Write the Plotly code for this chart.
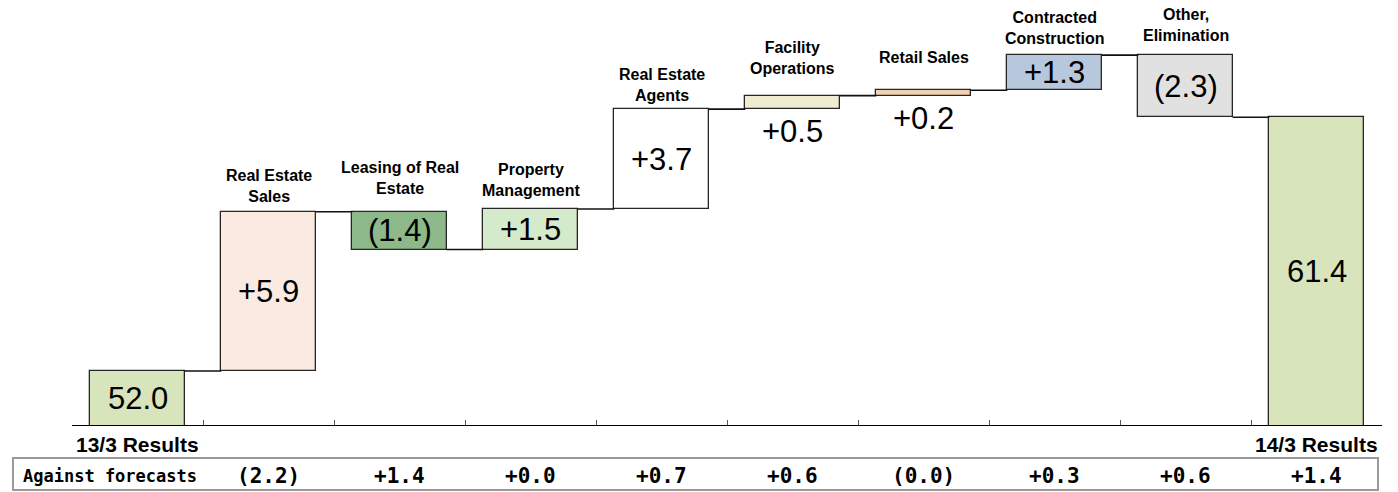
import math
import plotly.graph_objects as go

# Operating income bridge: 13/3 results -> 14/3 results (billions of yen)
categories = ["13/3 Results", "Real Estate<br>Sales", "Leasing of Real<br>Estate",
              "Property<br>Management", "Real Estate<br>Agents", "Facility<br>Operations",
              "Retail Sales", "Contracted<br>Construction", "Other,<br>Elimination",
              "14/3 Results"]
start_value = 52.0
changes = [5.9, -1.4, 1.5, 3.7, 0.5, 0.2, 1.3, -2.3]
end_value = 61.4
against_forecasts = [-2.2, 1.4, 0.0, 0.7, 0.6, -0.0, 0.3, 0.6, 1.4]

fill_colors = ["#D7E4BC", "#FBEAE1", "#8DB98A", "#D5E9CB", "#FFFFFF",
               "#F0EBD3", "#F3D2B3", "#B8C8DC", "#E1E1E1", "#D7E4BC"]
value_place = ["in", "in", "in", "in", "in", "below", "below", "in", "in", "in"]
label_gap = [0, 5, 13, 8, 3, 17, 22, 6, 9, 0]

Y_MIN, Y_MAX = 50.0, 65.0
W, H = 1398, 492
M_L, M_R, M_T, M_B = 72, 16, 20, 67
PLOT_W = W - M_L - M_R
PLOT_H = H - M_T - M_B


def fmt_change(v):
    if math.copysign(1.0, v) < 0:
        return "({:.1f})".format(abs(v))
    return "+{:.1f}".format(v)


def px_to_paper_y(py):
    return (H - M_B - py) / PLOT_H


def px_to_paper_x(px):
    return (px - M_L) / PLOT_W


# bar bases / heights from running total
levels = [start_value]
for c in changes:
    levels.append(levels[-1] + c)

bases = [0.0]
heights = [start_value]
for i, c in enumerate(changes):
    lo = min(levels[i], levels[i + 1])
    bases.append(lo)
    heights.append(abs(c))
bases.append(0.0)
heights.append(end_value)

xs = list(range(len(categories)))
BAR_W = 0.72

fig = go.Figure()
fig.add_trace(go.Bar(
    x=xs, y=heights, base=bases, width=BAR_W,
    marker=dict(color=fill_colors, line=dict(color="#262626", width=1.3)),
    hoverinfo="skip", showlegend=False,
))

# connector lines between neighbouring bars
cx, cy = [], []
for i in range(len(categories) - 1):
    lvl = levels[i] if i < len(levels) else end_value
    cx += [i + BAR_W / 2, i + 1 - BAR_W / 2, None]
    cy += [lvl, lvl, None]
fig.add_trace(go.Scatter(x=cx, y=cy, mode="lines",
                         line=dict(color="#111111", width=1.6),
                         hoverinfo="skip", showlegend=False))

annotations = []
value_font = dict(family="Liberation Sans, Arial", size=31, color="#000")
value_texts = ["{:.1f}".format(start_value)] + [fmt_change(c) for c in changes] + ["{:.1f}".format(end_value)]
tops = [b + h for b, h in zip(bases, heights)]
for i, txt in enumerate(value_texts):
    bottom = max(bases[i], Y_MIN)
    if value_place[i] == "in":
        annotations.append(dict(x=i, y=(bottom + tops[i]) / 2, xref="x", yref="y",
                                yanchor="middle", text=txt, showarrow=False, font=value_font))
    else:
        annotations.append(dict(x=i, y=bottom, xref="x", yref="y", yanchor="top", yshift=-3,
                                text=txt, showarrow=False, font=value_font))

# category names: above the change bars, under the axis for the two results
label_font = dict(family="Liberation Sans, Arial", size=16, color="#000")
for i, name in enumerate(categories):
    if i == 0 or i == len(categories) - 1:
        annotations.append(dict(x=i, y=0, xref="x", yref="paper", yanchor="top", yshift=-6,
                                text="<b>%s</b>" % name, showarrow=False,
                                font=dict(family="Liberation Sans, Arial", size=21, color="#000")))
    else:
        annotations.append(dict(x=i, y=tops[i], xref="x", yref="y", yanchor="bottom",
                                yshift=label_gap[i], text="<b>%s</b>" % name, showarrow=False,
                                font=label_font))

# "Against forecasts" row
row_y = px_to_paper_y(476)
annotations.append(dict(x=px_to_paper_x(21), y=row_y, xref="paper", yref="paper",
                        xanchor="left", yanchor="middle", text="<b>Against forecasts</b>",
                        showarrow=False,
                        font=dict(family="DejaVu Sans Mono", size=17, color="#000")))
for i, v in enumerate(against_forecasts):
    annotations.append(dict(x=i + 1, y=row_y, xref="x", yref="paper", yanchor="middle",
                            text="<b>%s</b>" % fmt_change(v), showarrow=False,
                            font=dict(family="DejaVu Sans Mono", size=21, color="#000")))

shapes = [dict(type="rect", xref="paper", yref="paper",
               x0=px_to_paper_x(13), x1=px_to_paper_x(1378),
               y0=px_to_paper_y(458), y1=px_to_paper_y(490),
               line=dict(color="#9A9A9A", width=2), fillcolor="rgba(0,0,0,0)")]

fig.update_layout(
    width=W, height=H,
    margin=dict(l=M_L, r=M_R, t=M_T, b=M_B),
    paper_bgcolor="white", plot_bgcolor="white",
    annotations=annotations, shapes=shapes,
    xaxis=dict(range=[-0.5, len(categories) - 0.5], tickvals=[k - 0.5 for k in range(len(categories) + 1)],
               ticks="inside", ticklen=5, tickcolor="#555", showticklabels=False,
               showline=True, linecolor="#000", linewidth=1.2, showgrid=False, zeroline=False),
    yaxis=dict(range=[Y_MIN, Y_MAX], visible=False),
    bargap=0,
)

fig.write_html("out.html")
